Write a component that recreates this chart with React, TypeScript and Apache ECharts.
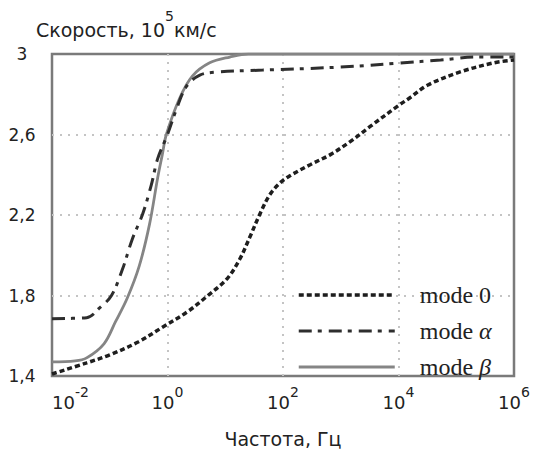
import React, { useEffect, useRef } from "react";
import * as echarts from "echarts";

// log10 of frequency (Hz) and speed (10^5 km/s)
const mode0LogF = [-2, -1.4, -1.0, -0.5, -0.1, 0.35, 0.7, 1.03, 1.25, 1.43, 1.6, 1.77, 1.95, 2.12, 2.47, 2.82, 3.17, 3.51, 3.98, 4.21, 4.5, 5.08, 5.65, 6];
const mode0Speed = [1.41, 1.465, 1.505, 1.57, 1.64, 1.72, 1.8, 1.883, 1.98, 2.093, 2.205, 2.3, 2.36, 2.395, 2.45, 2.5, 2.566, 2.64, 2.74, 2.785, 2.845, 2.912, 2.956, 2.97];

const modeALogF = [-2, -1.4, -1.18, -0.97, -0.78, -0.61, -0.43, -0.28, -0.17, 0, 0.16, 0.33, 0.56, 0.85, 1.65, 3, 4.03, 4.73, 5.37, 6];
const modeASpeed = [1.685, 1.69, 1.737, 1.8, 1.93, 2.08, 2.205, 2.35, 2.48, 2.6, 2.73, 2.84, 2.895, 2.91, 2.92, 2.935, 2.955, 2.97, 2.985, 2.985];

const modeBLogF = [-2, -1.6, -1.4, -1.1, -0.9, -0.7, -0.49, -0.31, -0.17, -0.09, -0.02, 0.21, 0.43, 0.73, 1.08, 1.4, 6];
const modeBSpeed = [1.47, 1.475, 1.49, 1.56, 1.67, 1.785, 1.946, 2.156, 2.385, 2.5, 2.6, 2.78, 2.89, 2.956, 2.985, 3.0, 3.0];

const seriesNames = ["mode 0", "mode α", "mode β"];
const xTickExponents = [-2, 0, 2, 4, 6];
const yTicks = [1.4, 1.8, 2.2, 2.6, 3];

const SANS = "'DejaVu Sans', Verdana, sans-serif";
const SERIF = "'Liberation Serif', 'Times New Roman', serif";

const COLORS = ["#1e1e1e", "#2e2e2e", "#858585"];
const WIDTHS = [3.5, 3, 2.8];
const DASHES: any[] = [[5, 3], [13, 6, 4, 7], "solid"];

const zip = (xs: number[], ys: number[]) => xs.map((x, i) => [x, ys[i]]);

export default function App() {
  const ref = useRef<HTMLDivElement>(null);
  useEffect(() => {
    if (!ref.current) return;
    document.body.style.margin = "0";
    const chart = echarts.init(ref.current, null, { renderer: "svg" });
    const dataSets = [zip(mode0LogF, mode0Speed), zip(modeALogF, modeASpeed), zip(modeBLogF, modeBSpeed)];
    chart.setOption({
      animation: false,
      backgroundColor: "#fff",
      title: {
        left: 31,
        top: 4,
        text: "{a|Скорость, 10}{s|5}{a|км/с}",
        textStyle: {
          fontWeight: "normal",
          rich: {
            a: { fontSize: 19, fontFamily: SANS, fontWeight: "normal", color: "#222", lineHeight: 30, verticalAlign: "bottom" },
            s: { fontSize: 14, fontFamily: SANS, fontWeight: "normal", color: "#222", lineHeight: 14, verticalAlign: "top" },
          },
        },
      },
      grid: {
        left: 52,
        right: 21,
        top: 54,
        bottom: 71,
        show: true,
        borderColor: "#7a7a7a",
        borderWidth: 2.5,
      },
      legend: {
        orient: "vertical",
        left: 297,
        top: 283,
        padding: 0,
        itemGap: 12,
        itemWidth: 96,
        itemHeight: 24,
        itemStyle: { opacity: 0 },
        data: seriesNames.map((name, i) => ({
          name,
          lineStyle: { width: WIDTHS[i], type: DASHES[i], color: COLORS[i] },
        })),
        formatter: (name: string) => {
          const g = name.split(" ")[1];
          return g === "0" ? `{n|mode 0}` : `{n|mode }{g|${g}}`;
        },
        textStyle: {
          padding: [0, 0, 0, 20],
          rich: {
            n: { fontSize: 24, fontFamily: SERIF, color: "#222" },
            g: { fontSize: 24, fontFamily: SERIF, fontStyle: "italic", color: "#222" },
          },
        },
      },
      xAxis: {
        type: "value",
        min: -2,
        max: 6,
        interval: 2,
        name: "Частота, Гц",
        nameLocation: "middle",
        nameGap: 53,
        nameTextStyle: { fontSize: 19, fontFamily: SANS, color: "#222" },
        axisLine: { show: false },
        axisTick: { show: false },
        splitLine: {
          show: true,
          showMinLine: false,
          showMaxLine: false,
          lineStyle: { color: "#c4c4c4", width: 2, type: [2, 6] },
        },
        axisLabel: {
          margin: 9,
          alignMinLabel: "left",
          formatter: (v: number) => (xTickExponents.includes(v) ? `{b|10}{s|${v}}` : ""),
          rich: {
            b: { fontSize: 18, fontFamily: SANS, color: "#222", lineHeight: 26, verticalAlign: "bottom" },
            s: { fontSize: 14, fontFamily: SANS, color: "#222", lineHeight: 14, verticalAlign: "top" },
          },
        },
      },
      yAxis: {
        type: "value",
        min: 1.4,
        max: 3,
        interval: 0.4,
        axisLine: { show: false },
        axisTick: { show: false },
        splitLine: {
          show: true,
          showMinLine: false,
          showMaxLine: false,
          lineStyle: { color: "#c4c4c4", width: 2, type: [2, 6] },
        },
        axisLabel: {
          margin: 30,
          align: "center",
          fontSize: 17,
          fontFamily: SANS,
          color: "#222",
          formatter: (v: number) => {
            const t = yTicks.find((y) => Math.abs(y - v) < 1e-6);
            if (t === undefined) return "";
            return Number.isInteger(t) ? String(t) : t.toFixed(1).replace(".", ",");
          },
        },
      },
      series: seriesNames.map((name, i) => ({
        name,
        type: "line",
        data: dataSets[i],
        smooth: 0.35,
        symbol: "none",
        lineStyle: { color: COLORS[i], width: WIDTHS[i], type: DASHES[i] },
        itemStyle: { color: COLORS[i] },
        z: i === 2 ? 2 : 3,
      })),
    });
    return () => chart.dispose();
  }, []);
  return <div ref={ref} style={{ width: 535, height: 453 }} />;
}
